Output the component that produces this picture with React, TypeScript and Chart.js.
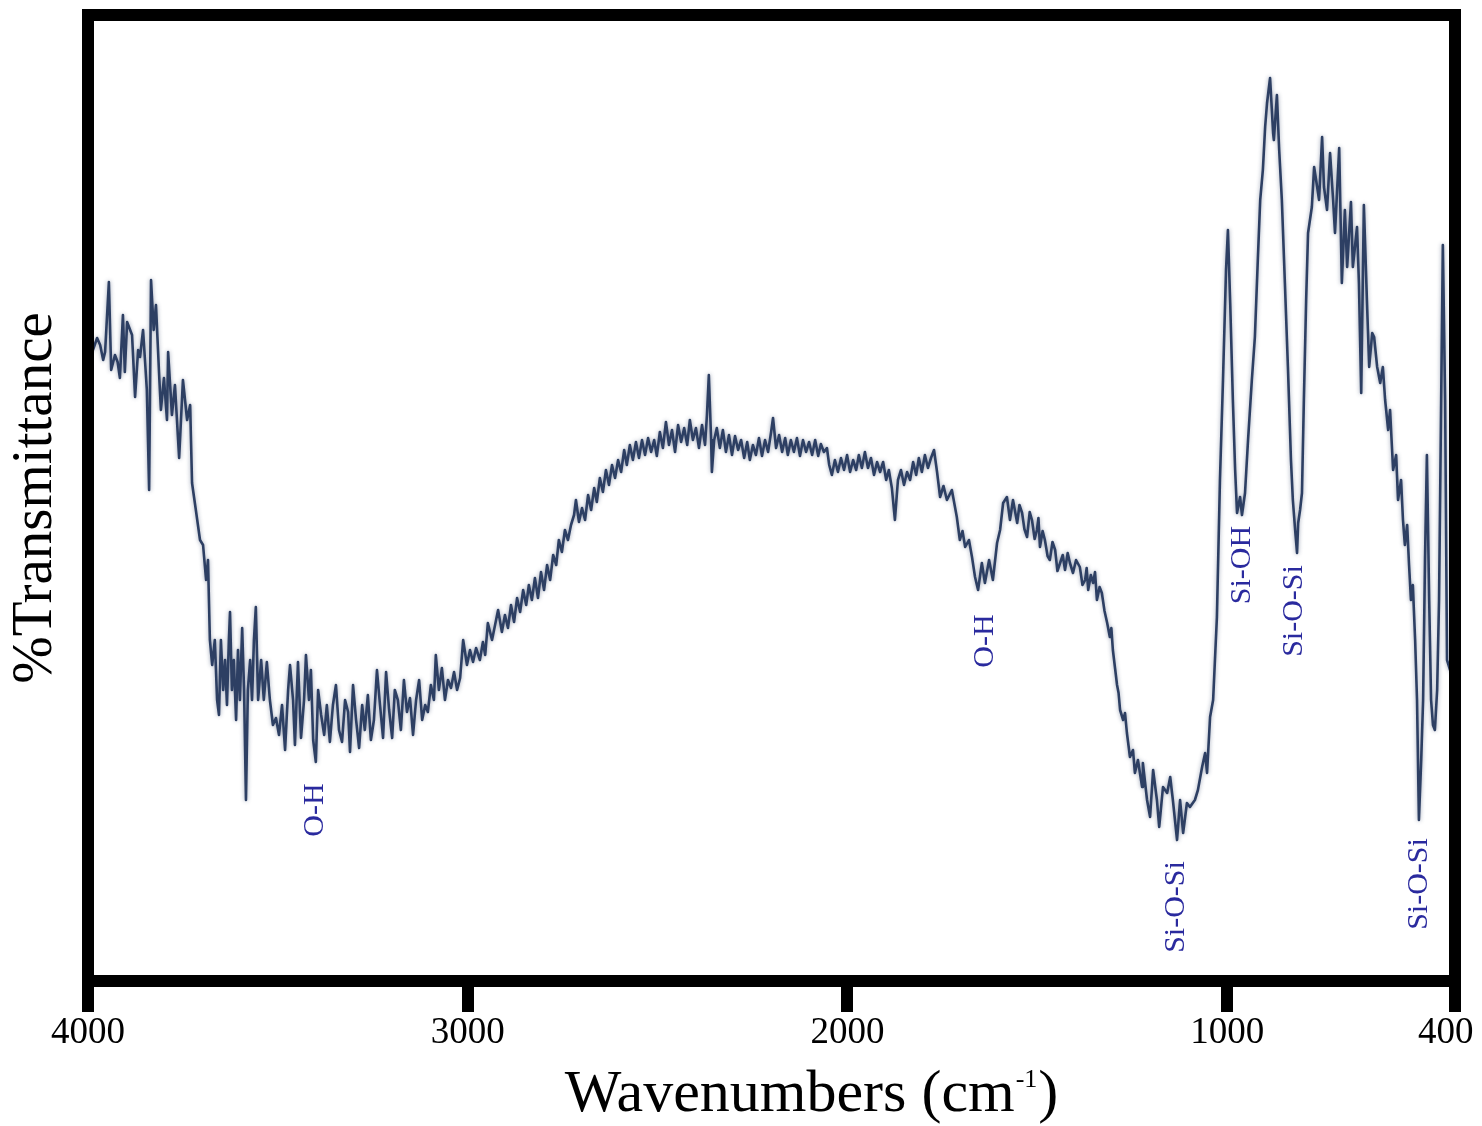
import React, { useEffect, useRef } from "react";
import { Chart, registerables } from "chart.js";

Chart.register(...registerables);

const wavenumbers = [
  4000, 3987, 3976, 3968, 3960, 3955, 3945, 3939, 3929, 3922,
  3916, 3908, 3903, 3897, 3884, 3876, 3868, 3863, 3855, 3845,
  3839, 3834, 3827, 3821, 3812, 3808, 3800, 3792, 3789, 3779,
  3771, 3760, 3750, 3739, 3731, 3726, 3716, 3705, 3697, 3689,
  3684, 3679, 3673, 3666, 3660, 3655, 3650, 3644, 3639, 3634,
  3629, 3626, 3621, 3616, 3610, 3605, 3600, 3594, 3589, 3584,
  3579, 3573, 3568, 3563, 3558, 3552, 3544, 3537, 3529, 3521,
  3513, 3505, 3497, 3489, 3481, 3473, 3468, 3460, 3455, 3447,
  3439, 3431, 3426, 3418, 3413, 3407, 3400, 3394, 3386, 3378,
  3371, 3363, 3355, 3347, 3339, 3331, 3323, 3315, 3310, 3302,
  3294, 3286, 3278, 3271, 3263, 3255, 3247, 3239, 3231, 3223,
  3215, 3207, 3199, 3192, 3184, 3176, 3168, 3160, 3152, 3144,
  3136, 3128, 3120, 3112, 3105, 3097, 3089, 3084, 3076, 3068,
  3060, 3052, 3044, 3036, 3028, 3020, 3012, 3002, 2994, 2986,
  2978, 2968, 2960, 2954, 2947, 2936, 2928, 2920, 2910, 2902,
  2894, 2886, 2878, 2870, 2862, 2854, 2846, 2839, 2831, 2823,
  2815, 2807, 2799, 2791, 2783, 2775, 2767, 2760, 2752, 2744,
  2736, 2728, 2720, 2715, 2707, 2699, 2691, 2683, 2675, 2667,
  2660, 2652, 2644, 2636, 2628, 2620, 2612, 2604, 2596, 2588,
  2581, 2573, 2565, 2557, 2549, 2541, 2533, 2525, 2517, 2509,
  2502, 2494, 2486, 2478, 2470, 2462, 2454, 2446, 2438, 2430,
  2422, 2415, 2407, 2399, 2391, 2383, 2375, 2370, 2365, 2359,
  2357, 2351, 2344, 2336, 2328, 2320, 2312, 2304, 2296, 2288,
  2280, 2272, 2264, 2257, 2249, 2241, 2233, 2225, 2217, 2209,
  2201, 2196, 2188, 2180, 2172, 2164, 2157, 2149, 2141, 2133,
  2125, 2117, 2109, 2101, 2093, 2085, 2077, 2070, 2062, 2054,
  2048, 2041, 2033, 2025, 2017, 2009, 2001, 1993, 1985, 1977,
  1970, 1962, 1954, 1946, 1938, 1930, 1922, 1914, 1906, 1898,
  1891, 1883, 1875, 1867, 1859, 1851, 1843, 1835, 1827, 1819,
  1812, 1804, 1796, 1788, 1780, 1772, 1764, 1756, 1747, 1738,
  1725, 1712, 1704, 1697, 1690, 1680, 1672, 1664, 1656, 1646,
  1638, 1627, 1617, 1606, 1598, 1590, 1580, 1572, 1564, 1553,
  1547, 1540, 1534, 1527, 1520, 1514, 1507, 1501, 1497, 1493,
  1486, 1480, 1473, 1467, 1460, 1453, 1447, 1440, 1433, 1427,
  1420, 1414, 1406, 1398, 1388, 1381, 1374, 1370, 1366, 1359,
  1353, 1348, 1343, 1336, 1330, 1323, 1316, 1309, 1305, 1301,
  1295, 1290, 1286, 1282, 1274, 1269, 1264, 1256, 1248, 1243,
  1235, 1224, 1222, 1211, 1203, 1195, 1185, 1179, 1169, 1158,
  1150, 1143, 1132, 1124, 1116, 1106, 1098, 1085, 1077, 1066,
  1058, 1053, 1045, 1037, 1027, 1019, 1011, 1003, 998, 992,
  985, 979, 974, 966, 961, 953, 945, 935, 927, 919,
  913, 906, 900, 895, 887, 879, 877, 869, 863, 856,
  848, 840, 832, 827, 821, 816, 813, 808, 803, 798,
  792, 787, 777, 771, 763, 758, 750, 745, 737, 729,
  721, 716, 705, 698, 690, 684, 674, 669, 658, 653,
  647, 640, 632, 626, 618, 613, 605, 597, 590, 584,
  576, 571, 563, 555, 550, 542, 537, 532, 526, 521,
  516, 511, 505, 500, 495, 489, 484, 479, 474, 468,
  463, 458, 453, 447, 442, 437, 432, 426, 421, 413,
  400,
];

const transmittance = [
  63.0, 63.1, 64.3, 63.6, 62.1, 62.9, 69.9, 61.1, 62.6, 61.9,
  60.3, 66.6, 60.9, 65.9, 64.6, 58.4, 63.1, 62.4, 65.1, 59.1,
  49.1, 70.1, 65.1, 67.6, 60.1, 57.1, 60.3, 56.1, 62.9, 56.6,
  59.6, 52.3, 60.1, 56.1, 57.6, 49.8, 47.1, 44.1, 43.6, 40.1,
  42.1, 34.1, 31.6, 34.1, 28.1, 26.6, 34.1, 29.1, 32.1, 27.6,
  34.1, 36.9, 29.1, 32.1, 26.1, 33.1, 28.1, 35.3, 29.1, 18.1,
  29.1, 32.1, 28.1, 34.1, 37.4, 28.1, 32.1, 28.1, 31.9, 28.1,
  25.6, 26.3, 24.6, 27.6, 23.1, 29.1, 31.6, 28.1, 23.6, 31.9,
  24.3, 28.1, 32.6, 28.1, 31.1, 24.1, 21.9, 29.1, 26.6, 24.6,
  27.6, 23.9, 27.6, 29.6, 25.1, 23.9, 28.1, 26.9, 22.9, 29.6,
  26.1, 23.3, 27.6, 25.1, 28.6, 24.1, 26.1, 31.1, 27.6, 24.3,
  30.9, 27.1, 24.3, 29.1, 28.1, 25.1, 30.1, 26.9, 28.3, 24.6,
  28.1, 30.1, 26.1, 27.6, 26.9, 29.6, 28.1, 32.6, 29.1, 31.3,
  28.1, 30.1, 29.3, 30.9, 29.1, 30.3, 34.1, 31.6, 33.1, 31.9,
  33.3, 32.1, 33.9, 32.6, 35.8, 34.1, 35.6, 37.1, 34.9, 36.6,
  35.3, 37.6, 35.9, 38.3, 36.9, 39.1, 37.6, 39.6, 38.1, 40.3,
  38.3, 40.9, 39.1, 41.6, 40.1, 42.6, 41.6, 44.1, 42.9, 45.1,
  44.1, 45.6, 46.6, 48.1, 45.9, 47.3, 46.1, 48.6, 47.1, 49.3,
  47.9, 50.3, 48.9, 51.1, 49.6, 51.6, 50.3, 52.1, 50.9, 53.1,
  51.6, 53.6, 52.1, 53.9, 52.3, 54.1, 52.6, 54.3, 52.9, 54.1,
  52.5, 54.9, 53.3, 55.9, 53.6, 55.1, 52.9, 55.6, 53.9, 55.3,
  53.6, 56.1, 54.1, 55.3, 53.3, 55.6, 53.6, 56.6, 60.6, 54.1,
  50.9, 54.1, 55.3, 53.3, 55.1, 52.9, 54.6, 52.6, 54.5, 53.1,
  54.1, 52.3, 53.9, 52.1, 53.6, 52.6, 54.3, 52.5, 54.1, 52.9,
  54.9, 56.3, 53.3, 54.6, 52.9, 54.3, 52.6, 54.1, 52.9, 54.3,
  52.5, 54.1, 52.9, 53.9, 52.6, 54.1, 52.5, 53.7, 52.9, 53.3,
  51.6, 50.6, 52.1, 50.9, 52.3, 51.1, 52.6, 50.9, 52.1, 51.1,
  52.6, 51.3, 52.9, 51.3, 52.3, 50.6, 51.9, 50.9, 51.9, 50.1,
  51.1, 49.3, 46.1, 50.1, 51.1, 49.6, 50.9, 50.1, 51.9, 50.6,
  52.3, 50.9, 52.6, 51.3, 52.3, 53.1, 50.9, 48.4, 49.5, 48.1,
  49.1, 46.4, 44.1, 45.0, 43.4, 44.1, 42.4, 40.4, 39.1, 41.8,
  39.8, 42.1, 40.1, 43.8, 45.1, 47.8, 48.4, 46.1, 48.1, 45.8,
  47.6, 46.8, 45.2, 44.4, 46.9, 46.1, 44.2, 45.1, 46.3, 43.4,
  45.0, 44.1, 42.5, 42.1, 43.9, 43.1, 41.0, 41.8, 42.6, 41.1,
  42.8, 41.8, 40.8, 42.1, 41.4, 39.6, 40.1, 41.3, 39.1, 40.6,
  39.8, 40.9, 38.1, 39.4, 38.8, 37.0, 35.8, 34.4, 35.3, 33.1,
  31.2, 29.6, 28.8, 27.1, 26.1, 26.8, 24.8, 22.4, 23.1, 20.8,
  22.1, 19.4, 21.8, 18.1, 16.4, 21.1, 18.1, 15.4, 19.4, 18.8,
  20.4, 18.1, 14.1, 18.1, 14.8, 17.8, 17.4, 18.1, 19.1, 21.4,
  22.8, 20.8, 26.4, 28.1, 36.4, 50.1, 60.1, 71.1, 75.1, 67.8,
  58.1, 51.1, 46.8, 48.4, 46.6, 48.8, 54.1, 60.1, 64.4, 72.4,
  78.1, 81.1, 85.4, 87.8, 90.3, 84.8, 84.1, 88.6, 83.1, 78.1,
  69.8, 61.4, 52.1, 48.1, 45.1, 42.8, 45.8, 47.1, 48.8, 58.1,
  68.1, 74.8, 77.4, 81.4, 79.4, 78.1, 84.4, 79.4, 77.1, 82.8,
  78.1, 74.8, 83.3, 69.8, 77.1, 71.4, 77.9, 71.4, 75.4, 69.8,
  58.8, 77.6, 68.1, 61.4, 64.8, 64.4, 61.4, 59.8, 61.4, 58.1,
  55.1, 57.1, 51.1, 52.6, 48.1, 50.1, 46.1, 43.6, 45.6, 41.6,
  38.1, 39.6, 34.1, 28.1, 16.1, 22.1, 28.1, 42.1, 52.6, 38.1,
  28.1, 25.6, 25.1, 29.1, 38.1, 56.1, 73.6, 58.1, 32.1, 31.1,
  31.0,
];

const xTickValues = [400, 1000, 2000, 3000, 4000];

const annotationLabels = ["O-H", "O-H", "Si-OH", "Si-O-Si", "Si-O-Si", "Si-O-Si"];
const annotationWavenumbers = [3402, 1638, 961, 824, 1135, 495];
const annotationTransmittance = [17.1, 34.0, 41.6, 37.0, 7.4, 9.7];

const yTitle = "%Transmittance";
const xTitleMain = "Wavenumbers (cm";
const xTitleSup = "-1";
const xTitleEnd = ")";

const SERIF = "'Liberation Serif', 'Times New Roman', Times, serif";

const decorPlugin = {
  id: "decor",
  beforeDatasetDraw(chart: any) {
    const ctx = chart.ctx;
    ctx.save();
    ctx.shadowColor = "rgba(40,58,95,0.45)";
    ctx.shadowBlur = 4;
  },
  afterDatasetDraw(chart: any) {
    chart.ctx.restore();
  },
  afterDraw(chart: any) {
    const { ctx, chartArea: a, scales } = chart;
    ctx.save();
    // frame
    ctx.strokeStyle = "#000";
    ctx.lineWidth = 12;
    ctx.lineJoin = "miter";
    ctx.strokeRect(a.left, a.top, a.right - a.left, a.bottom - a.top);

    // band annotations
    ctx.fillStyle = "#2a2a9e";
    ctx.font = `30px ${SERIF}`;
    ctx.textAlign = "center";
    ctx.textBaseline = "middle";
    annotationLabels.forEach((t, i) => {
      const x = scales.x.getPixelForValue(annotationWavenumbers[i]);
      const y = scales.y.getPixelForValue(annotationTransmittance[i]);
      ctx.save();
      ctx.translate(x, y);
      ctx.rotate(-Math.PI / 2);
      ctx.fillText(t, 0, 0);
      ctx.restore();
    });

    // x axis title with superscript
    const mainFont = `60px ${SERIF}`;
    const supFont = `26px ${SERIF}`;
    ctx.fillStyle = "#000";
    ctx.textAlign = "left";
    ctx.textBaseline = "alphabetic";
    ctx.font = mainFont;
    const w1 = ctx.measureText(xTitleMain).width;
    const w3 = ctx.measureText(xTitleEnd).width;
    ctx.font = supFont;
    const w2 = ctx.measureText(xTitleSup).width;
    const total = w1 + w2 + w3 + 2;
    const cx = (a.left + a.right) / 2 + 40;
    const baseY = a.bottom + 130;
    let sx = cx - total / 2;
    ctx.font = mainFont;
    ctx.fillText(xTitleMain, sx, baseY);
    sx += w1 + 1;
    ctx.font = supFont;
    ctx.fillText(xTitleSup, sx, baseY - 24);
    sx += w2 + 1;
    ctx.font = mainFont;
    ctx.fillText(xTitleEnd, sx, baseY);
    ctx.restore();
  },
};

export default function App() {
  const canvasRef = useRef<HTMLCanvasElement | null>(null);

  useEffect(() => {
    const canvas = canvasRef.current;
    if (!canvas) return;
    const points = wavenumbers.map((w, i) => ({ x: w, y: transmittance[i] }));
    const chart = new Chart(canvas, {
      type: "line",
      data: {
        datasets: [
          {
            data: points,
            borderColor: "#2d3f63",
            borderWidth: 2.6,
            pointRadius: 0,
            tension: 0,
            fill: false,
            borderJoinStyle: "round",
            borderCapStyle: "round",
          } as any,
        ],
      },
      options: {
        animation: false,
        responsive: false,
        devicePixelRatio: 1,
        layout: { padding: { left: 8, right: 27, top: 15, bottom: 72 } },
        plugins: { legend: { display: false }, tooltip: { enabled: false } },
        scales: {
          x: {
            type: "linear",
            reverse: true,
            min: 400,
            max: 4000,
            afterBuildTicks: (s: any) => {
              s.ticks = xTickValues.map((v) => ({ value: v }));
            },
            ticks: {
              autoSkip: false,
              maxRotation: 0,
              minRotation: 0,
              padding: 2.5,
              color: "#000",
              font: { family: SERIF, size: 37, lineHeight: 1 },
              callback: (v: any) => (v === 400 ? "400\u2002" : String(v)),
            },
            grid: {
              display: true,
              drawOnChartArea: false,
              drawTicks: true,
              tickLength: 31,
              tickWidth: 12,
              tickColor: "#000",
              color: "#000",
              lineWidth: 12,
            },
            border: { display: true, width: 12, color: "#000", z: 1 },
            title: { display: false },
          } as any,
          y: {
            type: "linear",
            min: 0,
            max: 96.6,
            ticks: { display: false },
            grid: { display: false, drawTicks: false, tickLength: 0 },
            border: { display: true, width: 12, color: "#000", z: 1 },
            title: {
              display: true,
              text: yTitle,
              color: "#000",
              font: { family: SERIF, size: 57, lineHeight: 1 },
              padding: { top: 0, bottom: 23 },
            },
          } as any,
        },
      },
      plugins: [decorPlugin],
    });
    return () => chart.destroy();
  }, []);

  return (
    <div style={{ position: "absolute", left: 0, top: 0, width: 1482, height: 1126, background: "#fff" }}>
      <canvas ref={canvasRef} width={1482} height={1126} style={{ display: "block" }} />
    </div>
  );
}
